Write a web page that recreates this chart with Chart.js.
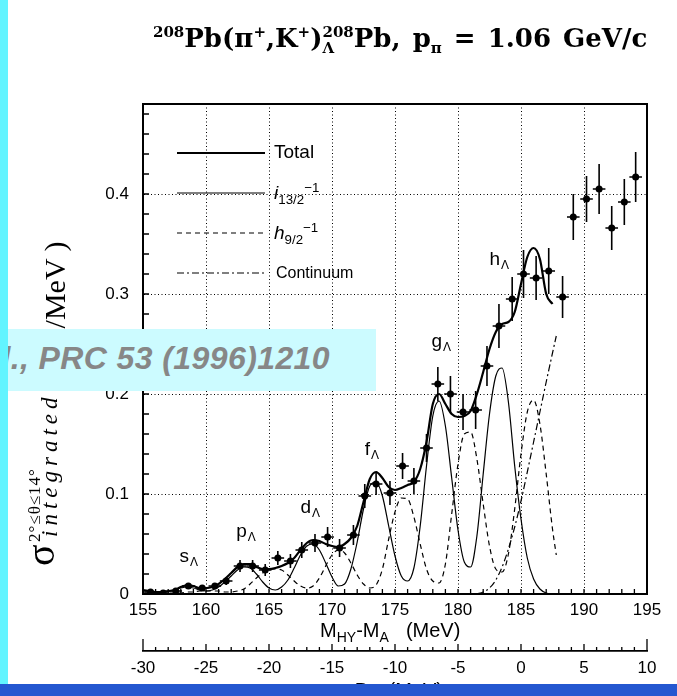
<!DOCTYPE html>
<html>
<head>
<meta charset="utf-8">
<script src="https://cdn.jsdelivr.net/npm/chart.js@4.4.1/dist/chart.umd.min.js"></script>
<style>
  html, body { margin: 0; padding: 0; background: #fff; }
  #page { position: relative; width: 677px; height: 696px; overflow: hidden; background: #fff; }
  #chart { position: absolute; left: 0; top: 0; }
  .txt { position: absolute; white-space: nowrap; color: #000; }
  #title { left: 153px; top: 23px; font: bold 26px "DejaVu Serif", serif; line-height: 30px; word-spacing: 3px; }
  #title .sc { font-size: 15px; vertical-align: 10px; line-height: 0; }
  #title .sb { font-size: 15px; vertical-align: -6px; line-height: 0; }
  #title .stack { display: inline-flex; flex-direction: column; font-size: 15px; line-height: 16px; vertical-align: 10px; }
  #ylabel { left: 0; top: 566px; width: 340px; height: 70px; transform-origin: 0 0; transform: rotate(-90deg); font-family: "Liberation Serif", serif; }
  #ylabel span { position: absolute; white-space: nowrap; line-height: 1; }
  .sans { font-family: "Liberation Sans", Arial, sans-serif; }
  #xtitle { left: 320px; top: 619px; font-size: 20px; word-spacing: 3px; }
  #x2title { left: 348px; top: 679px; font-size: 20px; }
  sub, sup { font-size: 70%; }
  #banner { position: absolute; left: 0; top: 329px; width: 376px; height: 62px; background: #ccfbff; overflow: hidden; }
  #banner span { position: absolute; right: 46px; top: 11px; font: italic bold 32px "Liberation Sans", Arial, sans-serif; letter-spacing: 0.4px; color: #878787; white-space: nowrap; }
  #sidebar { position: absolute; left: 0; top: 0; width: 8px; height: 684px; background: #62f4ff; }
  #bottombar { position: absolute; left: 0; top: 684px; width: 677px; height: 12px; background: #2457d0; }
</style>
</head>
<body>
<div id="page">
  <canvas id="chart" width="677" height="696"></canvas>

  <div id="title" class="txt"><span class="sc">208</span>Pb(π<span class="sc">+</span>,K<span class="sc">+</span>)<span class="stack"><span>208</span><span>Λ</span></span>Pb, p<span class="sb">π</span> = 1.06 GeV/c</div>

  <div id="ylabel" class="txt">
    <span style="left:0; top:21px; font-size:40px;">σ</span>
    <span style="left:24px; top:26px; font-size:17px; letter-spacing:1px;">2°≤θ≤14°</span>
    <span style="left:29px; top:38px; font-size:23px; font-style:italic; letter-spacing:5px;">integrated</span>
    <span style="left:189px; top:40px; font-size:30px;">( μb/MeV )</span>
  </div>

  <div id="xtitle" class="txt sans">M<sub>HY</sub>-M<sub>A</sub>&nbsp; (MeV)</div>
  <div id="x2title" class="txt sans">-B<sub>Λ</sub>&nbsp; (MeV)</div>

  <div class="txt sans" style="left:274px; top:141px; font-size:19px;">Total</div>
  <div class="txt sans" style="left:274px; top:180px; font-size:19px;"><i>i</i><sub>13/2</sub><sup>−1</sup></div>
  <div class="txt sans" style="left:274px; top:220px; font-size:19px;"><i>h</i><sub>9/2</sub><sup>−1</sup></div>
  <div class="txt sans" style="left:276px; top:264px; font-size:16px;">Continuum</div>

  <div id="banner"><span>al., PRC 53 (1996)1210</span></div>
  <div id="sidebar"></div>
  <div id="bottombar"></div>
</div>

<script>
// measured spectrum: bin centres (MeV), cross section and its error
var binCenters = [155.6, 156.6, 157.6, 158.6, 159.7, 160.7, 161.6, 162.7, 163.7, 164.7,
                  165.7, 166.7, 167.6, 168.65, 169.65, 170.6, 171.7, 172.6, 173.5, 174.6,
                  175.6, 176.5, 177.5, 178.4, 179.4, 180.4, 181.4, 182.3, 183.25, 184.3,
                  185.2, 186.2, 187.2, 188.3, 189.15, 190.2, 191.2, 192.2, 193.2, 194.1];
var crossSection = [0.002, 0.001, 0.003, 0.008, 0.006, 0.008, 0.013, 0.028, 0.028, 0.024,
                    0.036, 0.033, 0.044, 0.051, 0.057, 0.046, 0.059, 0.098, 0.110, 0.101,
                    0.128, 0.113, 0.146, 0.210, 0.200, 0.182, 0.184, 0.228, 0.268, 0.295,
                    0.320, 0.316, 0.323, 0.297, 0.377, 0.395, 0.405, 0.366, 0.392, 0.417];
var crossSectionErr = [0.002, 0.002, 0.002, 0.002, 0.002, 0.003, 0.004, 0.006, 0.006, 0.006,
                       0.007, 0.007, 0.008, 0.009, 0.010, 0.009, 0.010, 0.012, 0.011, 0.012,
                       0.013, 0.013, 0.014, 0.017, 0.018, 0.018, 0.019, 0.020, 0.022, 0.022,
                       0.024, 0.022, 0.023, 0.021, 0.023, 0.023, 0.025, 0.022, 0.023, 0.025];
var binHalfWidth = 0.5;

// fitted curves, sampled every 0.5 MeV
var fitEnergy = [155, 155.5, 156, 156.5, 157, 157.5, 158, 158.5, 159, 159.5,
                 160, 160.5, 161, 161.5, 162, 162.5, 163, 163.5, 164, 164.5,
                 165, 165.5, 166, 166.5, 167, 167.5, 168, 168.5, 169, 169.5,
                 170, 170.5, 171, 171.5, 172, 172.5, 173, 173.5, 174, 174.5,
                 175, 175.5, 176, 176.5, 177, 177.5, 178, 178.5, 179, 179.5,
                 180, 180.5, 181, 181.5, 182, 182.5, 183, 183.5, 184, 184.5,
                 185, 185.5, 186, 186.5, 187, 187.5];
var totalFit = [0.004, 0.003, 0.002, 0.002, 0.003, 0.004, 0.007, 0.009, 0.008, 0.006,
                0.006, 0.007, 0.010, 0.015, 0.021, 0.027, 0.030, 0.030, 0.027, 0.025,
                0.025, 0.026, 0.028, 0.031, 0.036, 0.044, 0.051, 0.054, 0.053, 0.050,
                0.048, 0.047, 0.050, 0.056, 0.068, 0.092, 0.115, 0.122, 0.116, 0.107,
                0.104, 0.106, 0.109, 0.112, 0.125, 0.152, 0.190, 0.200, 0.190, 0.180,
                0.177, 0.178, 0.183, 0.200, 0.222, 0.245, 0.262, 0.270, 0.272, 0.282,
                0.310, 0.337, 0.346, 0.335, 0.300, 0.290];
var i13Fit = [0.002, 0.002, 0.002, 0.002, 0.003, 0.004, 0.006, 0.007, 0.006, 0.004,
              0.003, 0.004, 0.007, 0.012, 0.018, 0.024, 0.027, 0.026, 0.020, 0.012,
              0.006, 0.004, 0.007, 0.014, 0.026, 0.039, 0.048, 0.050, 0.044, 0.031,
              0.017, 0.008, 0.010, 0.025, 0.052, 0.085, 0.108, 0.112, 0.098, 0.068,
              0.038, 0.018, 0.013, 0.026, 0.068, 0.128, 0.178, 0.193, 0.168, 0.116,
              0.064, 0.032, 0.027, 0.058, 0.120, 0.180, 0.218, 0.226, 0.192, 0.128,
              0.075, 0.036, 0.015, 0.005, 0.001, 0.000];
var h9Energy = [155, 155.5, 156, 156.5, 157, 157.5, 158, 158.5, 159, 159.5,
                160, 160.5, 161, 161.5, 162, 162.5, 163, 163.5, 164, 164.5,
                165, 165.5, 166, 166.5, 167, 167.5, 168, 168.5, 169, 169.5,
                170, 170.5, 171, 171.5, 172, 172.5, 173, 173.5, 174, 174.5,
                175, 175.5, 176, 176.5, 177, 177.5, 178, 178.5, 179, 179.5,
                180, 180.5, 181, 181.5, 182, 182.5, 183, 183.5, 184, 184.5,
                185, 185.5, 186, 186.5, 187, 187.5, 187.8];
var h9Fit = [0.000, 0.000, 0.000, 0.001, 0.001, 0.001, 0.001, 0.002, 0.002, 0.003,
             0.003, 0.003, 0.003, 0.002, 0.002, 0.003, 0.005, 0.010, 0.016, 0.021,
             0.024, 0.025, 0.024, 0.019, 0.013, 0.008, 0.006, 0.008, 0.016, 0.028,
             0.039, 0.044, 0.041, 0.031, 0.019, 0.010, 0.006, 0.009, 0.025, 0.055,
             0.082, 0.096, 0.095, 0.077, 0.050, 0.025, 0.013, 0.011, 0.030, 0.080,
             0.130, 0.160, 0.162, 0.135, 0.090, 0.048, 0.025, 0.022, 0.040, 0.085,
             0.140, 0.182, 0.194, 0.170, 0.120, 0.065, 0.039];
var contEnergy = [181.5, 182, 182.5, 183, 183.5, 184, 184.5, 185, 185.5, 186, 186.5, 187, 187.5, 187.8];
var contFit = [0.000, 0.002, 0.006, 0.014, 0.027, 0.045, 0.067, 0.093, 0.122, 0.152, 0.182, 0.212, 0.241, 0.258];

// shell labels (letter, left edge in MeV, baseline in cross-section units)
var shellNames = ['s', 'p', 'd', 'f', 'g', 'h'];
var shellLabelX = [157.9, 162.4, 167.5, 172.6, 177.9, 182.5];
var shellLabelY = [0.032, 0.057, 0.081, 0.139, 0.247, 0.329];

function toPoints(xs, ys) {
    return xs.map(function (x, i) { return { x: x, y: ys[i] }; });
}

// error bars in both directions
var errorBars = {
    id: 'errorBars',
    afterDatasetsDraw: function (chart) {
        var ctx = chart.ctx, xs = chart.scales.x, ys = chart.scales.y;
        ctx.save();
        ctx.strokeStyle = '#000';
        ctx.lineWidth = 1.6;
        for (var i = 0; i < binCenters.length; i++) {
            var x = xs.getPixelForValue(binCenters[i]);
            var y = ys.getPixelForValue(crossSection[i]);
            ctx.beginPath();
            ctx.moveTo(x, ys.getPixelForValue(crossSection[i] - crossSectionErr[i]));
            ctx.lineTo(x, ys.getPixelForValue(crossSection[i] + crossSectionErr[i]));
            ctx.moveTo(xs.getPixelForValue(binCenters[i] - binHalfWidth), y);
            ctx.lineTo(xs.getPixelForValue(binCenters[i] + binHalfWidth), y);
            ctx.stroke();
        }
        ctx.restore();
    }
};

// frame, inward minor ticks and the second energy axis ticks
var frameTicks = {
    id: 'frameTicks',
    afterDraw: function (chart) {
        var ctx = chart.ctx, a = chart.chartArea;
        var xs = chart.scales.x, ys = chart.scales.y, x2 = chart.scales.x2;
        ctx.save();
        ctx.strokeStyle = '#000';
        ctx.lineWidth = 1.3;
        ctx.beginPath();
        for (var e = 155; e <= 195; e++) {
            var px = xs.getPixelForValue(e);
            ctx.moveTo(px, a.bottom);
            ctx.lineTo(px, a.bottom - 5);
        }
        for (var k = 0; k <= 24; k++) {
            var py = ys.getPixelForValue(k * 0.02);
            ctx.moveTo(a.left, py);
            ctx.lineTo(a.left + 6, py);
        }
        for (var b = -30; b <= 10; b++) {
            var qx = x2.getPixelForValue(b);
            var len = (b === -30 || b === 10) ? 12 : (b % 5 === 0 ? 7 : 4);
            ctx.moveTo(qx, x2.top);
            ctx.lineTo(qx, x2.top - len);
        }
        ctx.stroke();
        ctx.lineWidth = 2;
        ctx.strokeRect(a.left, a.top, a.right - a.left, a.bottom - a.top);
        ctx.restore();
    }
};

// legend samples inside the plot, styled from the curve datasets
var insetLegend = {
    id: 'insetLegend',
    afterDatasetsDraw: function (chart) {
        var ctx = chart.ctx, a = chart.chartArea;
        var sets = chart.data.datasets.slice(1);
        for (var k = 0; k < sets.length; k++) {
            var y = a.top + 49 + k * 40;
            ctx.save();
            ctx.strokeStyle = '#000';
            ctx.lineWidth = sets[k].borderWidth;
            ctx.setLineDash(sets[k].borderDash || []);
            ctx.beginPath();
            ctx.moveTo(a.left + 34, y);
            ctx.lineTo(a.left + 122, y);
            ctx.stroke();
            ctx.restore();
        }
    }
};

// s, p, d ... shell names with a Lambda subscript
var shellLabels = {
    id: 'shellLabels',
    afterDatasetsDraw: function (chart) {
        var ctx = chart.ctx, xs = chart.scales.x, ys = chart.scales.y;
        ctx.save();
        ctx.fillStyle = '#000';
        ctx.textAlign = 'left';
        ctx.textBaseline = 'alphabetic';
        for (var i = 0; i < shellNames.length; i++) {
            var x = xs.getPixelForValue(shellLabelX[i]);
            var y = ys.getPixelForValue(shellLabelY[i]);
            ctx.font = '19px "Liberation Sans", Arial, sans-serif';
            ctx.fillText(shellNames[i], x, y);
            var w = ctx.measureText(shellNames[i]).width;
            ctx.font = '12px "Liberation Sans", Arial, sans-serif';
            ctx.fillText('Λ', x + w + 1, y + 4);
        }
        ctx.restore();
    }
};

var tickFont = { family: '"Liberation Sans", Arial, sans-serif', size: 17 };

var ctx = document.getElementById('chart').getContext('2d');
var chart = new Chart(ctx, {
    type: 'line',
    data: {
        datasets: [{
            label: 'data',
            data: toPoints(binCenters, crossSection),
            showLine: false,
            pointRadius: 3.5,
            pointBackgroundColor: '#000',
            pointBorderColor: '#000',
            pointBorderWidth: 0
        }, {
            label: 'Total',
            data: toPoints(fitEnergy, totalFit),
            borderColor: '#000',
            borderWidth: 2.2,
            pointRadius: 0,
            cubicInterpolationMode: 'monotone'
        }, {
            label: 'i13/2-1',
            data: toPoints(fitEnergy, i13Fit),
            borderColor: '#000',
            borderWidth: 1.2,
            pointRadius: 0,
            cubicInterpolationMode: 'monotone'
        }, {
            label: 'h9/2-1',
            data: toPoints(h9Energy, h9Fit),
            borderColor: '#000',
            borderWidth: 1.2,
            borderDash: [5, 4],
            pointRadius: 0,
            cubicInterpolationMode: 'monotone'
        }, {
            label: 'Continuum',
            data: toPoints(contEnergy, contFit),
            borderColor: '#000',
            borderWidth: 1.2,
            borderDash: [7, 3, 2, 3],
            pointRadius: 0,
            cubicInterpolationMode: 'monotone'
        }]
    },
    options: {
        responsive: false,
        animation: false,
        devicePixelRatio: 1,
        layout: { padding: { left: 0, right: 30, top: 104, bottom: 0 } },
        plugins: { legend: { display: false }, tooltip: { enabled: false } },
        scales: {
            x: {
                type: 'linear',
                position: 'bottom',
                weight: 0,
                min: 155,
                max: 195,
                afterFit: function (s) { s.height = 57; },
                ticks: { stepSize: 5, padding: 6, color: '#000', font: tickFont },
                grid: { color: '#000', lineWidth: 1, drawTicks: false },
                border: { display: true, color: '#000', width: 2, dash: [1, 2.5] }
            },
            x2: {
                type: 'linear',
                position: 'bottom',
                weight: 1,
                min: -30,
                max: 10,
                afterFit: function (s) { s.height = 45; },
                ticks: { stepSize: 5, padding: 7, color: '#000', font: tickFont },
                grid: { display: false, drawTicks: false },
                border: { display: true, color: '#000', width: 1.8 }
            },
            y: {
                type: 'linear',
                min: 0,
                max: 0.49,
                afterFit: function (s) { s.width = 143; },
                ticks: {
                    stepSize: 0.1,
                    includeBounds: false,
                    padding: 14,
                    color: '#000',
                    font: tickFont,
                    callback: function (v) { return v === 0 ? '0' : v.toFixed(1); }
                },
                grid: { color: '#000', lineWidth: 1, drawTicks: false },
                border: { display: true, color: '#000', width: 2, dash: [1, 2.5] }
            }
        }
    },
    plugins: [errorBars, frameTicks, insetLegend, shellLabels]
});
</script>
</body>
</html>
